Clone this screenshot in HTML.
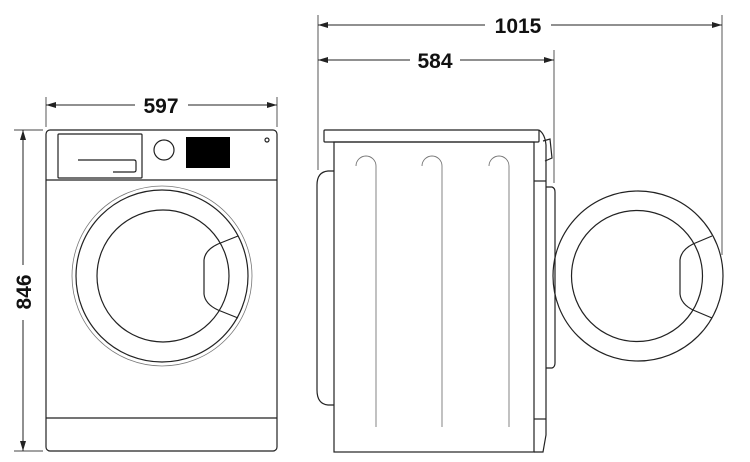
<!DOCTYPE html>
<html><head><style>body{margin:0;background:#fff}svg{display:block}</style></head><body>
<svg width="750" height="462" viewBox="0 0 750 462" xmlns="http://www.w3.org/2000/svg">
<defs>
<marker id="a" viewBox="0 0 10 6" refX="10" refY="3" markerWidth="10" markerHeight="6" markerUnits="userSpaceOnUse" orient="auto-start-reverse"><path d="M0,0L10,3L0,6z" fill="#222"/></marker>
</defs>
<g fill="none" stroke="#222" stroke-width="1.2">
<!-- front view -->
<rect x="46" y="130" width="231" height="321" rx="4"/>
<line x1="46" y1="180" x2="277" y2="180"/>
<line x1="46" y1="418" x2="277" y2="418"/>
<rect x="58" y="134" width="84" height="44" rx="1"/>
<path d="M78 160H134q2 0 2 2v8q0 2-2 2H113"/>
<circle cx="164" cy="150" r="10"/>
<circle cx="267" cy="140" r="2"/>
<circle cx="162" cy="276" r="90" stroke="#777" stroke-width="0.8"/>
<circle cx="162" cy="276" r="86"/>
<circle cx="163" cy="276" r="66"/>
<path d="M218 244L238 236M218 310L238 318M218 244Q205 250 204 260V294Q205 304 218 310"/>
<!-- side view -->
<rect x="324" y="130" width="215" height="12" rx="1"/>
<rect x="334" y="142" width="200" height="310"/>
<path d="M539 130Q545 134 546 145V435L543 452H534"/>
<line x1="534" y1="181" x2="546" y2="181"/>
<line x1="534" y1="419" x2="546" y2="419"/>
<path d="M543 141L550 139L552 158L545 161"/>
<path d="M546 187H552Q555 188 555 192V363Q555 367 552 368H546"/>
<path d="M334 171H328Q317 172 317 185V390Q317 404 328 405H334"/>
<g stroke="#777" stroke-width="0.9">
<path d="M356 166A10 10 0 0 1 376 166V427"/>
<path d="M422 166A10 10 0 0 1 442 166V427"/>
<path d="M489 166A10 10 0 0 1 509 166V427"/>
</g>
<circle cx="638" cy="276" r="85"/>
<circle cx="637" cy="276" r="65.5"/>
<path d="M693 244L712 236M693 310L712 318M693 244Q681 250 680 260V294Q681 304 693 310"/>
<!-- dimension lines -->
<g stroke="#444" stroke-width="0.9">
<line x1="46" y1="97" x2="46" y2="127"/>
<line x1="277" y1="97" x2="277" y2="127"/>
<line x1="14" y1="130" x2="43" y2="130"/>
<line x1="14" y1="451" x2="43" y2="451"/>
<line x1="318" y1="15" x2="318" y2="170"/>
<line x1="722" y1="15" x2="722" y2="255"/>
<line x1="554" y1="50" x2="554" y2="183"/>
</g>
<g stroke="#222" stroke-width="1">
<line x1="46" y1="105" x2="135" y2="105" marker-start="url(#a)"/>
<line x1="188" y1="105" x2="277" y2="105" marker-end="url(#a)"/>
<line x1="23" y1="130" x2="23" y2="265" marker-start="url(#a)"/>
<line x1="23" y1="320" x2="23" y2="451" marker-end="url(#a)"/>
<line x1="318" y1="25" x2="485" y2="25" marker-start="url(#a)"/>
<line x1="551" y1="25" x2="722" y2="25" marker-end="url(#a)"/>
<line x1="318" y1="60" x2="410" y2="60" marker-start="url(#a)"/>
<line x1="460" y1="60" x2="554" y2="60" marker-end="url(#a)"/>
</g>
</g>
<rect x="186" y="137" width="44" height="31" fill="#000"/>
<g font-family="Liberation Sans, sans-serif" font-weight="bold" font-size="21" fill="#111" text-anchor="middle">
<text x="161" y="113">597</text>
<text x="518" y="33">1015</text>
<text x="435" y="68">584</text>
<text transform="translate(31,292) rotate(-90)">846</text>
</g>
</svg>
</body></html>
